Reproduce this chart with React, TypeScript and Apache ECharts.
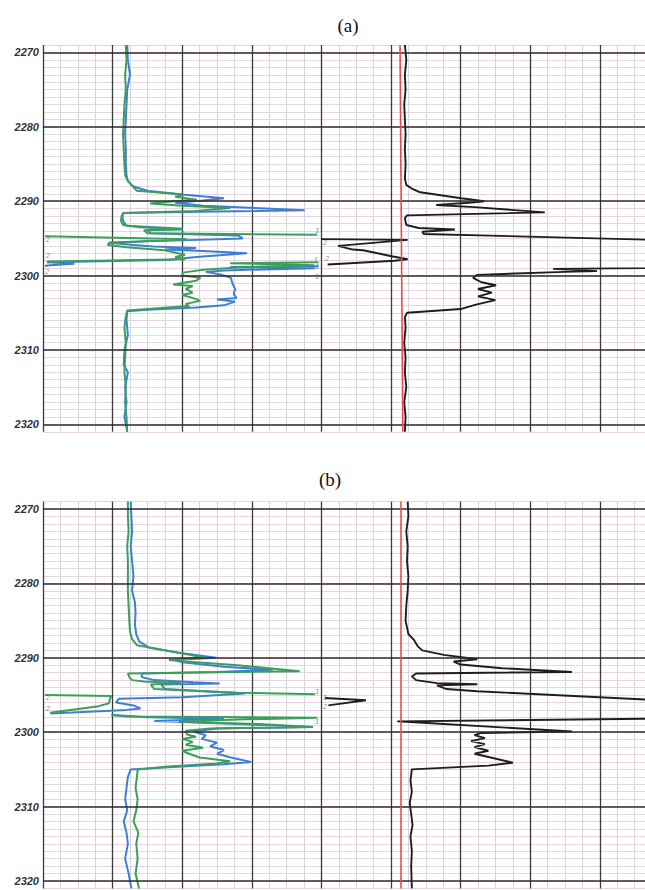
import { useEffect, useRef } from 'react';
import * as echarts from 'echarts';

// Depth axis (m), x axis in chart divisions
const depthMin = 2269;
const depthMax = 2321;
const depthMajor = [2270, 2280, 2290, 2300, 2310, 2320];
const xMax = 8.65;

type Pt = [number, number];

// ---------- Panel (a) ----------
const aGreen: Pt[][] = [
  [[1.19,2269],[1.2,2271],[1.18,2273],[1.19,2275],[1.17,2277],[1.16,2279],[1.15,2281],[1.16,2283],[1.17,2285],[1.18,2286.5],[1.22,2287.3],[1.29,2288.0],[1.35,2288.6],[1.75,2288.9],[2.01,2289.1],[1.9,2289.4],[2.21,2289.8],[1.75,2290.1],[1.54,2290.3],[2.0,2290.6],[2.69,2290.9],[2.2,2291.3],[1.15,2291.6],[1.13,2292.0],[1.12,2292.6],[1.15,2293.2],[1.39,2293.5],[2.01,2293.8],[1.45,2293.9],[1.5,2294.3],[3.94,2294.5]],
  [[0.03,2294.7],[2.07,2295.1],[0.95,2295.6],[0.93,2295.9],[1.2,2296.2],[1.75,2296.6],[2.04,2297.2],[1.9,2297.5],[2.04,2297.8],[0.06,2298.1]],
  [[3.96,2298.2],[2.69,2298.35],[3.9,2298.6],[2.8,2298.9],[2.3,2299.2],[2.01,2299.6],[2.0,2300.0],[2.26,2300.3],[2.2,2300.7],[1.87,2301.2],[2.15,2301.4],[2.05,2301.8],[2.15,2302.3],[2.0,2302.6],[2.15,2303.0],[2.26,2303.4],[2.05,2303.8],[2.1,2304.1],[1.5,2304.5],[1.21,2304.7],[1.19,2305.5],[1.17,2307],[1.19,2309],[1.18,2311],[1.17,2313],[1.19,2315],[1.18,2317],[1.2,2319],[1.21,2321]],
];
const aBlue: Pt[][] = [
  [[1.21,2269],[1.22,2271],[1.25,2273],[1.21,2275],[1.2,2277],[1.19,2279],[1.18,2281],[1.19,2283],[1.19,2285],[1.2,2286.5],[1.22,2287.3],[1.29,2288.0],[1.5,2288.6],[2.0,2289.1],[2.6,2289.6],[2.3,2289.9],[1.9,2290.2],[2.3,2290.6],[3.76,2291.2],[2.5,2291.4],[1.15,2291.6],[1.14,2292.2],[1.16,2292.8],[1.2,2293.3],[2.01,2293.7],[1.5,2293.9],[1.55,2294.3],[2.8,2294.6],[2.87,2295.0],[1.5,2295.4],[0.95,2295.6],[1.3,2295.9],[1.59,2296.1],[2.2,2296.3],[1.75,2296.5],[2.3,2296.7],[2.93,2297.0],[2.2,2297.5],[1.8,2297.9],[0.06,2298.2],[0.45,2298.4],[0.1,2298.6],[0.03,2298.7]],
  [[3.96,2298.75],[2.69,2298.85],[3.91,2299.0],[2.6,2299.3],[2.34,2299.5],[2.57,2299.9],[2.7,2300.3],[2.72,2301],[2.76,2301.8],[2.74,2302.5],[2.78,2303.0],[2.5,2303.2],[2.76,2303.5],[2.6,2304.0],[2.2,2304.3],[1.5,2304.6],[1.21,2304.8],[1.2,2306],[1.22,2308],[1.17,2310],[1.16,2312],[1.22,2313],[1.18,2315],[1.2,2317],[1.17,2319],[1.21,2321]],
];
const aBlack: Pt[][] = [
  [[5.2,2269],[5.22,2271],[5.2,2273],[5.21,2275],[5.19,2277],[5.2,2279],[5.21,2281],[5.2,2283],[5.21,2285],[5.2,2287],[5.22,2287.8],[5.3,2288.3],[5.42,2288.8],[6.01,2289.6],[6.34,2290.0],[6.12,2290.2],[5.65,2290.5],[6.2,2290.8],[7.21,2291.5],[5.23,2291.9],[5.2,2292.3],[5.22,2293.2],[5.4,2293.6],[5.92,2293.8],[5.45,2294.1],[5.47,2294.4],[9.6,2295.4]],
  [[4.0,2295.1],[5.24,2295.2],[4.24,2296.0],[4.45,2296.5],[4.6,2296.6],[5.01,2297.4],[5.24,2297.8],[5.05,2298.0],[4.09,2298.5]],
  [[9.6,2298.9],[8.65,2299.0],[7.33,2299.1],[7.96,2299.4],[7.5,2299.5],[6.24,2299.9],[6.18,2300.3],[6.3,2300.9],[6.51,2301.3],[6.25,2301.8],[6.45,2302.3],[6.25,2302.8],[6.5,2303.3],[6.22,2303.9],[6.0,2304.5],[5.23,2305.0],[5.2,2305.6],[5.21,2307],[5.19,2309],[5.21,2311],[5.2,2313],[5.22,2315],[5.19,2317],[5.21,2319],[5.2,2321]],
];
const aRed: Pt[] = [[5.13,2269],[5.17,2321]];
const aMarks: [number, number, string][] = [
  [3.94,2293.9,'1'],[4.05,2295.5,'2'],[0.07,2295.1,'2'],[0.07,2297.3,'2'],[3.92,2297.9,'f'],[4.08,2297.7,'2'],[0.06,2298.4,'2'],[0.06,2299.4,'2'],[3.94,2298.8,'1'],[3.94,2300.1,'1'],
];

// ---------- Panel (b) ----------
const bGreen: Pt[][] = [
  [[1.22,2269],[1.22,2271],[1.23,2273],[1.21,2275],[1.22,2277],[1.22,2279],[1.22,2281],[1.23,2283],[1.24,2285],[1.25,2286.5],[1.28,2287.5],[1.35,2288.3],[1.7,2288.9],[2.04,2289.5],[2.3,2289.9],[1.81,2290.3],[2.05,2290.5],[2.8,2291.0],[3.69,2291.8],[2.5,2291.95],[1.22,2292.1],[1.24,2292.6],[1.28,2293.0],[1.45,2293.2],[1.98,2293.4],[1.55,2293.6],[1.6,2294.2],[2.8,2294.7],[3.91,2294.9]],
  [[0.03,2295.0],[0.98,2295.15],[0.96,2295.6],[0.95,2296.1],[0.8,2296.5],[0.1,2297.4]],
  [[0.98,2297.7],[1.2,2297.9],[3.94,2298.05],[2.8,2298.3],[1.95,2298.6],[3.1,2298.9],[3.88,2299.3],[2.4,2299.5],[2.05,2299.8],[2.07,2300.3],[2.2,2300.6],[2.0,2300.9],[2.15,2301.3],[2.05,2301.7],[2.3,2302.1],[2.0,2302.5],[2.1,2302.9],[2.25,2303.4],[2.69,2303.9],[2.5,2304.2],[1.8,2304.6],[1.36,2305.0],[1.35,2306],[1.33,2307.5],[1.36,2309],[1.34,2310.5],[1.3,2312],[1.37,2313.5],[1.34,2315],[1.36,2317],[1.33,2319],[1.38,2321]],
];
const bBlue: Pt[][] = [
  [[1.26,2269],[1.27,2271],[1.28,2273],[1.26,2275],[1.28,2277],[1.3,2279],[1.28,2281],[1.32,2282.5],[1.33,2284],[1.32,2285.5],[1.34,2286.8],[1.38,2287.8],[1.52,2288.6],[1.93,2289.3],[2.49,2290.0],[1.9,2290.3],[2.0,2290.6],[2.6,2291.2],[3.3,2291.6],[2.5,2291.9],[1.42,2292.1],[1.42,2292.6],[1.6,2293.0],[2.16,2293.3],[2.54,2293.45],[1.7,2293.6],[1.75,2294.2],[2.9,2294.8],[2.01,2295.3],[1.09,2295.5],[1.05,2296.0],[1.3,2296.4],[1.4,2296.8],[1.2,2297.0],[0.11,2297.5]],
  [[1.0,2297.7],[1.5,2298.0],[2.6,2298.2],[1.6,2298.5],[2.8,2298.9],[3.88,2299.3],[2.5,2299.5],[2.16,2299.9],[2.34,2300.4],[2.28,2300.9],[2.5,2301.4],[2.4,2301.9],[2.6,2302.4],[2.5,2302.9],[2.7,2303.4],[2.99,2304.0],[2.6,2304.3],[1.8,2304.7],[1.26,2305.0],[1.22,2306],[1.2,2307.5],[1.18,2309],[1.21,2310.5],[1.16,2312],[1.2,2313.5],[1.22,2315],[1.18,2317],[1.23,2319],[1.27,2321]],
];
const bBlack: Pt[][] = [
  [[5.24,2269],[5.25,2271],[5.22,2273],[5.24,2275],[5.23,2277],[5.25,2279],[5.24,2281],[5.22,2283],[5.21,2285],[5.25,2286.8],[5.33,2287.6],[5.39,2288.5],[5.45,2289.0],[5.76,2289.6],[6.24,2290.2],[5.9,2290.5],[6.0,2290.9],[6.6,2291.4],[7.6,2291.9],[5.36,2292.1],[5.3,2292.5],[5.36,2293.0],[5.66,2293.4],[6.24,2293.55],[5.66,2293.7],[5.8,2294.2],[6.24,2294.5],[8.65,2295.6],[9.6,2295.9]],
  [[4.05,2295.4],[4.64,2295.7],[4.1,2296.4]],
  [[9.6,2298.1],[8.65,2298.2],[5.09,2298.55],[5.4,2298.7],[7.6,2299.9],[6.3,2300.1],[6.2,2300.4],[6.35,2300.8],[6.15,2301.2],[6.35,2301.6],[6.2,2302.0],[6.4,2302.5],[6.2,2302.9],[6.75,2304.1],[6.4,2304.5],[5.3,2305.0],[5.28,2306.5],[5.3,2308],[5.27,2309.5],[5.29,2311],[5.31,2312.5],[5.28,2314],[5.3,2316],[5.29,2318],[5.3,2321]],
];
const bRed: Pt[] = [[5.14,2269],[5.14,2321]];
const bMarks: [number, number, string][] = [
  [3.94,2294.5,'1'],[4.05,2295.4,'1'],[4.05,2296.6,'2'],[0.07,2295.3,'2'],[0.07,2296.8,'2'],[3.94,2298.5,'1'],
];

const titles = ['(a)', '(b)'];

const GREEN = '#3d9e5c';
const BLUE = '#3f7fd1';
const BLACK = '#1e1e1e';
const RED = '#ec4a4a';

export default function App() {
  const ref = useRef<HTMLDivElement>(null);
  useEffect(() => {
    if (!ref.current) return;
    const chart = echarts.init(ref.current, undefined, { renderer: 'svg' });
    const gridTops = [45, 501.6];
    const gridH = 386.8;

    const xAxes: any[] = [];
    const yAxes: any[] = [];
    const series: any[] = [];

    const panels = [
      { green: aGreen, blue: aBlue, black: aBlack, red: aRed, marks: aMarks },
      { green: bGreen, blue: bBlue, black: bBlack, red: bRed, marks: bMarks },
    ];

    panels.forEach((p, i) => {
      xAxes.push({
        type: 'value', gridIndex: i, min: 0, max: xMax, interval: 1,
        axisLabel: { show: false }, axisTick: { show: false }, axisLine: { show: false },
        splitLine: { show: true, showMaxLine: false, lineStyle: { color: '#3a3a3a', width: 1.3 } },
        minorTick: { show: false, splitNumber: 4 },
        minorSplitLine: { show: true, lineStyle: { color: '#d4d4dc', width: 1 } },
      });
      yAxes.push({
        type: 'value', gridIndex: i, min: depthMin, max: depthMax, interval: 1, inverse: true,
        axisLine: { show: false }, axisTick: { show: false },
        splitLine: { show: true, lineStyle: { color: '#e8d4e0', width: 1 } },
        axisLabel: {
          show: true, margin: 4, fontSize: 11, fontStyle: 'italic', fontWeight: 'bold',
          fontFamily: 'Liberation Sans, Arial, sans-serif', color: '#333',
          formatter: (v: number) => (Math.round(v) % 10 === 0 ? String(Math.round(v)) : ''),
        },
      });
      // major grid lines + red line
      series.push({
        type: 'line', xAxisIndex: i, yAxisIndex: i, data: [[0, depthMin]], silent: true,
        showSymbol: false, lineStyle: { opacity: 0 }, z: 2,
        markLine: {
          silent: true, symbol: ['none', 'none'], label: { show: false },
          lineStyle: { type: 'solid' },
          data: [
            ...depthMajor.map((d) => ({ yAxis: d, lineStyle: { color: '#35282c', width: 1.6, type: 'solid' } })),
            [
              { coord: p.red[0], lineStyle: { color: RED, width: 1.6, type: 'solid' } },
              { coord: p.red[1] },
            ],
          ],
        },
      });
      const addCurve = (segs: Pt[][], color: string, width: number) => {
        segs.forEach((seg) => {
          series.push({
            type: 'line', xAxisIndex: i, yAxisIndex: i, data: seg, showSymbol: false, silent: true,
            lineStyle: { color, width }, z: 4, clip: true,
          });
        });
      };
      addCurve(p.blue, BLUE, 2);
      addCurve(p.green, GREEN, 2);
      addCurve(p.black, BLACK, 1.9);
      series.push({
        type: 'scatter', xAxisIndex: i, yAxisIndex: i, data: p.marks, symbolSize: 1,
        itemStyle: { color: 'rgba(0,0,0,0)' }, silent: true, z: 5,
        label: {
          show: true, position: 'inside', fontSize: 7, lineHeight: 7, fontStyle: 'italic', color: '#6a6a6a',
          fontFamily: 'Liberation Sans, Arial, sans-serif',
          formatter: (q: any) => q.value[2],
        },
      });
    });

    chart.setOption({
      animation: false,
      backgroundColor: '#ffffff',
      grid: gridTops.map((t) => ({ left: 43, top: t, right: 0, height: gridH, containLabel: false })),
      xAxis: xAxes,
      yAxis: yAxes,
      series,
      graphic: [
        { type: 'text', x: 348, y: 25, style: { text: titles[0], fontSize: 19, fontFamily: 'Liberation Serif, Times New Roman, serif', fill: '#111', textAlign: 'center', textVerticalAlign: 'middle', verticalAlign: 'middle' } },
        { type: 'text', x: 330, y: 479, style: { text: titles[1], fontSize: 19, fontFamily: 'Liberation Serif, Times New Roman, serif', fill: '#111', textAlign: 'center', textVerticalAlign: 'middle', verticalAlign: 'middle' } },
      ],
    });
    return () => chart.dispose();
  }, []);
  return <div ref={ref} style={{ position: 'absolute', left: 0, top: 0, width: 645, height: 890, background: '#fff' }} />;
}
